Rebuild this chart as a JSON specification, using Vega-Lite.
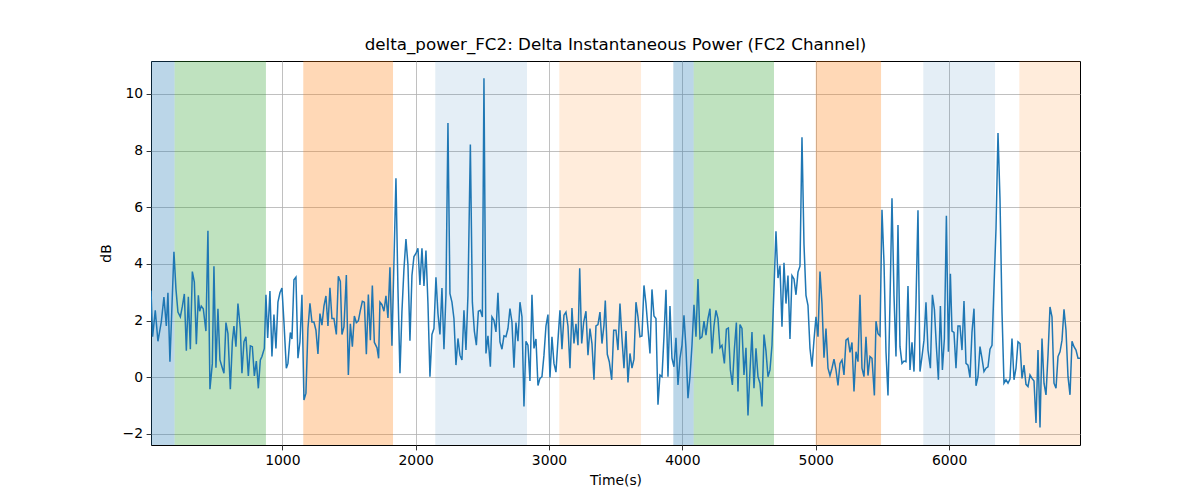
{
  "$schema": "https://vega.github.io/schema/vega-lite/v6.json",
  "width": 929,
  "height": 384,
  "autosize": {"type": "none"},
  "padding": {"left": 151, "top": 61, "right": 120, "bottom": 55},
  "background": "white",
  "config": {
    "font": "DejaVu Sans",
    "view": {"stroke": "#000000", "strokeWidth": 1},
    "axis": {
      "domain": false,
      "grid": true,
      "gridColor": "#b0b0b0",
      "gridWidth": 0.8,
      "tickColor": "#000000",
      "tickSize": 4.9,
      "tickWidth": 0.8,
      "labelColor": "#000000",
      "labelFont": "DejaVu Sans",
      "labelFontSize": 13.9,
      "labelPadding": 3.5,
      "labelFlush": false,
      "titleColor": "#000000",
      "titleFont": "DejaVu Sans",
      "titleFontSize": 13.9,
      "titleFontWeight": "normal"
    }
  },
  "title": {
    "text": "delta_power_FC2: Delta Instantaneous Power (FC2 Channel)",
    "font": "DejaVu Sans",
    "fontSize": 16.7,
    "fontWeight": "normal",
    "color": "#000000",
    "offset": 7
  },
  "datasets": {
    "spans": [
      {"start": 0, "end": 192, "kind": "blue"},
      {"start": 192, "end": 877, "kind": "green"},
      {"start": 1157, "end": 1830, "kind": "orange"},
      {"start": 2147, "end": 2835, "kind": "lightblue"},
      {"start": 3077, "end": 3690, "kind": "lightorange"},
      {"start": 3932, "end": 4085, "kind": "blue"},
      {"start": 4085, "end": 4687, "kind": "green"},
      {"start": 5000, "end": 5490, "kind": "orange"},
      {"start": 5807, "end": 6345, "kind": "lightblue"},
      {"start": 6527, "end": 7000, "kind": "lightorange"}
    ],
    "series": [
      {"t":15,"v":3.06},{"t":27,"v":1.43},{"t":47,"v":2.36},{"t":67,"v":1.27},{"t":92,"v":1.95},{"t":112,"v":2.83},{"t":130,"v":1.81},{"t":142,"v":2.98},{"t":157,"v":0.55},{"t":187,"v":4.43},{"t":202,"v":3.12},{"t":217,"v":2.3},{"t":235,"v":2.13},{"t":250,"v":2.5},{"t":265,"v":2.94},{"t":280,"v":0.94},{"t":295,"v":2.84},{"t":310,"v":0.99},{"t":325,"v":3.73},{"t":340,"v":3.36},{"t":355,"v":1.17},{"t":370,"v":2.89},{"t":380,"v":2.33},{"t":392,"v":2.51},{"t":407,"v":2.42},{"t":427,"v":1.63},{"t":442,"v":5.17},{"t":457,"v":-0.42},{"t":475,"v":0.49},{"t":487,"v":3.92},{"t":502,"v":0.34},{"t":517,"v":2.42},{"t":532,"v":0.61},{"t":547,"v":0.37},{"t":562,"v":0.14},{"t":577,"v":1.93},{"t":592,"v":1.54},{"t":610,"v":-0.42},{"t":625,"v":1.25},{"t":637,"v":1.81},{"t":652,"v":1.08},{"t":667,"v":2.6},{"t":685,"v":1.72},{"t":697,"v":0.14},{"t":712,"v":1.25},{"t":727,"v":1.43},{"t":745,"v":0.05},{"t":760,"v":1.11},{"t":775,"v":1.08},{"t":790,"v":0.05},{"t":805,"v":0.57},{"t":820,"v":-0.39},
      {"t":835,"v":0.61},{"t":847,"v":0.73},{"t":865,"v":1.02},{"t":877,"v":2.91},{"t":890,"v":1.39},{"t":907,"v":3.04},{"t":922,"v":0.73},{"t":937,"v":2.21},{"t":952,"v":1.02},{"t":967,"v":2.65},{"t":982,"v":2.98},{"t":997,"v":3.15},{"t":1012,"v":1.95},{"t":1030,"v":0.32},{"t":1042,"v":0.49},{"t":1060,"v":1.58},{"t":1072,"v":1.35},{"t":1087,"v":3.44},{"t":1102,"v":3.53},{"t":1117,"v":0.67},{"t":1132,"v":1.25},{"t":1147,"v":2.91},{"t":1162,"v":-0.8},{"t":1177,"v":-0.56},{"t":1192,"v":1.72},{"t":1207,"v":2.61},{"t":1222,"v":1.95},{"t":1237,"v":1.95},{"t":1252,"v":1.66},{"t":1267,"v":0.82},{"t":1282,"v":2.25},{"t":1297,"v":1.84},{"t":1312,"v":2.51},{"t":1327,"v":2.87},{"t":1342,"v":1.81},{"t":1357,"v":3.16},{"t":1372,"v":2.07},{"t":1387,"v":2.07},{"t":1405,"v":1.51},{"t":1420,"v":3.56},{"t":1435,"v":3.38},{"t":1447,"v":1.51},{"t":1462,"v":1.78},{"t":1480,"v":3.61},{"t":1495,"v":0.08},{"t":1510,"v":1.89},{"t":1525,"v":1.08},{"t":1540,"v":2.16},{"t":1555,"v":1.93},{"t":1570,"v":1.99},{"t":1585,"v":2.36},{"t":1600,"v":2.68},{"t":1615,"v":2.65},{"t":1630,"v":0.81},{"t":1645,"v":2.92},{"t":1660,"v":1.31},{"t":1675,"v":3.24},{"t":1690,"v":1.23},
      {"t":1710,"v":1.04},{"t":1722,"v":0.67},{"t":1732,"v":2.65},{"t":1747,"v":2.56},{"t":1762,"v":2.33},{"t":1777,"v":2.87},{"t":1792,"v":2.09},{"t":1807,"v":3.88},{"t":1822,"v":1.11},{"t":1852,"v":7.02},{"t":1867,"v":3.12},{"t":1882,"v":0.14},{"t":1897,"v":2.33},{"t":1912,"v":3.82},{"t":1927,"v":4.88},{"t":1942,"v":3.96},{"t":1957,"v":1.29},{"t":1972,"v":3.59},{"t":1987,"v":4.26},{"t":2002,"v":4.37},{"t":2017,"v":4.55},{"t":2032,"v":3.26},{"t":2047,"v":4.55},{"t":2062,"v":3.22},{"t":2077,"v":4.47},{"t":2092,"v":2.6},{"t":2107,"v":0.02},{"t":2122,"v":1.51},{"t":2137,"v":1.72},{"t":2152,"v":3.53},{"t":2167,"v":2.25},{"t":2182,"v":1.51},{"t":2197,"v":3.15},{"t":2212,"v":0.99},{"t":2227,"v":2.91},{"t":2242,"v":8.97},{"t":2257,"v":2.95},{"t":2272,"v":2.65},{"t":2287,"v":2.07},{"t":2302,"v":0.43},{"t":2317,"v":1.37},{"t":2332,"v":0.78},{"t":2347,"v":0.61},{"t":2362,"v":2.36},{"t":2377,"v":0.96},{"t":2392,"v":2.89},{"t":2410,"v":8.21},{"t":2425,"v":2.65},{"t":2440,"v":1.63},{"t":2455,"v":1.13},{"t":2470,"v":2.33},{"t":2485,"v":2.36},{"t":2500,"v":2.13},{"t":2512,"v":10.55},{"t":2527,"v":0.84},{"t":2542,"v":1.46},
      {"t":2560,"v":0.37},{"t":2572,"v":2.13},{"t":2587,"v":2.01},{"t":2602,"v":1.6},{"t":2617,"v":2.98},{"t":2632,"v":1.25},{"t":2647,"v":0.99},{"t":2662,"v":1.46},{"t":2677,"v":1.43},{"t":2692,"v":1.72},{"t":2707,"v":2.42},{"t":2722,"v":1.95},{"t":2737,"v":0.34},{"t":2752,"v":1.93},{"t":2767,"v":1.27},{"t":2782,"v":2.65},{"t":2797,"v":2.13},{"t":2812,"v":-1.03},{"t":2827,"v":1.27},{"t":2842,"v":1.13},{"t":2857,"v":-0.13},{"t":2872,"v":2.91},{"t":2887,"v":1.02},{"t":2902,"v":1.35},{"t":2917,"v":-0.29},{"t":2932,"v":-0.04},{"t":2947,"v":0.02},{"t":2962,"v":0.78},{"t":2977,"v":1.81},{"t":2992,"v":2.21},{"t":3007,"v":-0.01},{"t":3022,"v":1.43},{"t":3037,"v":0.49},{"t":3052,"v":0.18},{"t":3067,"v":1.31},{"t":3082,"v":2.36},{"t":3097,"v":0.99},{"t":3112,"v":2.19},{"t":3127,"v":2.3},{"t":3142,"v":1.81},{"t":3157,"v":0.32},{"t":3172,"v":2.44},{"t":3187,"v":1.19},{"t":3202,"v":1.89},{"t":3217,"v":1.13},{"t":3230,"v":3.85},{"t":3245,"v":1.19},{"t":3260,"v":1.95},{"t":3277,"v":2.33},{"t":3292,"v":0.78},{"t":3307,"v":1.72},{"t":3322,"v":1.19},{"t":3337,"v":-0.09},{"t":3352,"v":1.81},{"t":3367,"v":1.86},{"t":3382,"v":2.3},{"t":3397,"v":1.19},{"t":3412,"v":1.84},
      {"t":3422,"v":2.71},{"t":3437,"v":0.81},{"t":3452,"v":0.55},{"t":3470,"v":-0.09},{"t":3485,"v":1.66},{"t":3502,"v":1.66},{"t":3517,"v":0.96},{"t":3532,"v":2.6},{"t":3547,"v":1.37},{"t":3562,"v":0.32},{"t":3577,"v":1.63},{"t":3592,"v":-0.18},{"t":3607,"v":0.84},{"t":3622,"v":0.32},{"t":3637,"v":0.64},{"t":3652,"v":2.65},{"t":3667,"v":2.13},{"t":3682,"v":1.43},{"t":3697,"v":1.46},{"t":3712,"v":3.24},{"t":3727,"v":2.6},{"t":3742,"v":1.72},{"t":3757,"v":0.84},{"t":3772,"v":3.1},{"t":3787,"v":2.16},{"t":3802,"v":2.07},{"t":3817,"v":-0.97},{"t":3832,"v":0.08},{"t":3847,"v":0.02},{"t":3862,"v":1.43},{"t":3877,"v":3.09},{"t":3892,"v":0.02},{"t":3907,"v":2.51},{"t":3922,"v":0.67},{"t":3937,"v":0.37},{"t":3952,"v":1.39},{"t":3967,"v":-0.27},{"t":3982,"v":0.67},{"t":3997,"v":1.13},{"t":4012,"v":2.19},{"t":4027,"v":1.02},{"t":4042,"v":-0.74},{"t":4057,"v":0.02},{"t":4072,"v":1.13},{"t":4087,"v":2.56},{"t":4102,"v":1.43},{"t":4117,"v":3.47},{"t":4132,"v":1.37},{"t":4147,"v":1.43},{"t":4162,"v":1.98},{"t":4177,"v":1.49},{"t":4192,"v":2.07},{"t":4207,"v":2.42},{"t":4222,"v":0.84},{"t":4237,"v":1.81},{"t":4252,"v":2.36},{"t":4267,"v":2.07},{"t":4282,"v":1.04},
      {"t":4297,"v":1.13},{"t":4315,"v":0.49},{"t":4330,"v":1.7},{"t":4345,"v":1.74},{"t":4360,"v":0.26},{"t":4375,"v":-0.27},{"t":4390,"v":0.99},{"t":4405,"v":1.93},{"t":4417,"v":-0.5},{"t":4432,"v":1.86},{"t":4447,"v":1.72},{"t":4462,"v":0.08},{"t":4477,"v":1.04},{"t":4492,"v":-1.35},{"t":4507,"v":0.22},{"t":4522,"v":1.6},{"t":4537,"v":-0.39},{"t":4552,"v":1.02},{"t":4567,"v":0.02},{"t":4582,"v":-0.21},{"t":4597,"v":-1.03},{"t":4612,"v":1.51},{"t":4627,"v":0.92},{"t":4642,"v":0.02},{"t":4657,"v":0.26},{"t":4672,"v":1.13},{"t":4687,"v":3.12},{"t":4702,"v":5.15},{"t":4717,"v":3.5},{"t":4732,"v":3.94},{"t":4747,"v":1.78},{"t":4762,"v":4.04},{"t":4777,"v":2.6},{"t":4792,"v":3.59},{"t":4807,"v":1.35},{"t":4822,"v":3.59},{"t":4837,"v":3.47},{"t":4852,"v":2.91},{"t":4867,"v":3.71},{"t":4882,"v":3.92},{"t":4897,"v":8.47},{"t":4912,"v":4.7},{"t":4927,"v":2.89},{"t":4942,"v":2.54},{"t":4957,"v":1.02},{"t":4972,"v":0.37},{"t":4987,"v":1.31},{"t":5002,"v":2.13},{"t":5017,"v":1.43},{"t":5032,"v":3.73},{"t":5047,"v":2.6},{"t":5062,"v":0.69},{"t":5077,"v":1.72},{"t":5092,"v":0.32},{"t":5107,"v":0.06},{"t":5122,"v":0.32},{"t":5137,"v":0.64},{"t":5152,"v":0.26},{"t":5167,"v":-0.29},
      {"t":5182,"v":0.49},{"t":5197,"v":0.61},{"t":5212,"v":0.08},{"t":5227,"v":1.31},{"t":5242,"v":1.37},{"t":5257,"v":0.88},{"t":5272,"v":1.23},{"t":5287,"v":-0.5},{"t":5302,"v":0.9},{"t":5317,"v":0.55},{"t":5332,"v":2.91},{"t":5347,"v":0.32},{"t":5362,"v":0.02},{"t":5377,"v":1.43},{"t":5392,"v":0.06},{"t":5407,"v":0.73},{"t":5422,"v":0.67},{"t":5440,"v":-0.64},{"t":5452,"v":1.98},{"t":5467,"v":1.54},{"t":5482,"v":1.46},{"t":5497,"v":5.91},{"t":5512,"v":4.06},{"t":5527,"v":0.9},{"t":5542,"v":-0.64},{"t":5557,"v":2.65},{"t":5572,"v":6.32},{"t":5587,"v":2.89},{"t":5602,"v":0.73},{"t":5617,"v":5.37},{"t":5632,"v":1.08},{"t":5647,"v":0.49},{"t":5662,"v":0.57},{"t":5677,"v":0.55},{"t":5692,"v":3.22},{"t":5707,"v":0.26},{"t":5722,"v":1.23},{"t":5737,"v":0.2},{"t":5752,"v":2.63},{"t":5767,"v":5.89},{"t":5782,"v":0.2},{"t":5797,"v":0.73},{"t":5812,"v":1.31},{"t":5827,"v":2.65},{"t":5842,"v":0.96},{"t":5860,"v":0.32},{"t":5875,"v":2.91},{"t":5890,"v":2.4},{"t":5905,"v":1.08},{"t":5920,"v":-0.09},{"t":5935,"v":2.51},{"t":5950,"v":0.26},{"t":5965,"v":1.37},{"t":5980,"v":5.7},{"t":5995,"v":0.9},
      {"t":6010,"v":3.65},{"t":6022,"v":1.63},{"t":6037,"v":1.58},{"t":6052,"v":0.32},{"t":6067,"v":1.81},{"t":6082,"v":1.81},{"t":6097,"v":0.96},{"t":6112,"v":2.69},{"t":6127,"v":0.49},{"t":6142,"v":0.43},{"t":6157,"v":-0.01},{"t":6172,"v":1.6},{"t":6187,"v":2.42},{"t":6202,"v":-0.3},{"t":6217,"v":0.02},{"t":6232,"v":1.08},{"t":6247,"v":0.67},{"t":6262,"v":0.2},{"t":6277,"v":0.32},{"t":6292,"v":0.37},{"t":6307,"v":0.99},{"t":6322,"v":1.13},{"t":6337,"v":3.18},{"t":6352,"v":5.23},{"t":6367,"v":8.62},{"t":6382,"v":6.28},{"t":6397,"v":2.3},{"t":6412,"v":-0.21},{"t":6427,"v":-0.09},{"t":6442,"v":-0.21},{"t":6457,"v":-0.06},{"t":6472,"v":1.37},{"t":6487,"v":-0.09},{"t":6502,"v":0.32},{"t":6517,"v":1.25},{"t":6532,"v":1.19},{"t":6547,"v":-0.04},{"t":6562,"v":0.43},{"t":6577,"v":-0.25},{"t":6592,"v":-0.33},{"t":6607,"v":0.08},{"t":6622,"v":-0.04},{"t":6637,"v":-0.13},{"t":6652,"v":-1.61},{"t":6667,"v":0.96},{"t":6682,"v":-1.77},{"t":6697,"v":1.37},{"t":6712,"v":-0.21},{"t":6727,"v":-0.62},{"t":6742,"v":0.78},{"t":6757,"v":2.48},{"t":6772,"v":2.13},{"t":6787,"v":-0.21},{"t":6802,"v":-0.39},{"t":6817,"v":0.73},{"t":6832,"v":0.9},{"t":6847,"v":1.31},{"t":6862,"v":2.4},{"t":6877,"v":1.66},{"t":6892,"v":0.02},{"t":6907,"v":-0.62},{"t":6922,"v":1.27},{"t":6937,"v":1.08},{"t":6952,"v":0.96},{"t":6967,"v":0.67},{"t":6982,"v":0.67}
    ]
  },
  "layer": [
    {
      "data": {"name": "spans"},
      "mark": {"type": "rect", "clip": true},
      "encoding": {
        "x": {
          "field": "start", "type": "quantitative",
          "scale": {"domain": [15, 6982], "nice": false, "zero": false},
          "axis": {"title": "Time(s)", "values": [1000, 2000, 3000, 4000, 5000, 6000], "format": "d", "titlePadding": 6}
        },
        "x2": {"field": "end"},
        "color": {
          "field": "kind", "type": "nominal",
          "scale": {
            "domain": ["blue", "green", "orange", "lightblue", "lightorange"],
            "range": ["rgba(31,119,180,0.3)", "rgba(44,160,44,0.3)", "rgba(255,127,14,0.3)", "rgba(31,119,180,0.12)", "rgba(255,127,14,0.15)"]
          },
          "legend": null
        }
      }
    },
    {
      "data": {"name": "series"},
      "mark": {"type": "line", "color": "#1f77b4", "strokeWidth": 1.5, "clip": true},
      "encoding": {
        "x": {
          "field": "t", "type": "quantitative",
          "scale": {"domain": [15, 6982], "nice": false, "zero": false},
          "axis": {"title": "Time(s)", "values": [1000, 2000, 3000, 4000, 5000, 6000], "format": "d", "titlePadding": 6}
        },
        "y": {
          "field": "v", "type": "quantitative",
          "scale": {"domain": [-2.39, 11.16], "nice": false, "zero": false},
          "axis": {"title": "dB", "values": [-2, 0, 2, 4, 6, 8, 10], "format": "d", "titlePadding": 9}
        }
      }
    }
  ]
}
